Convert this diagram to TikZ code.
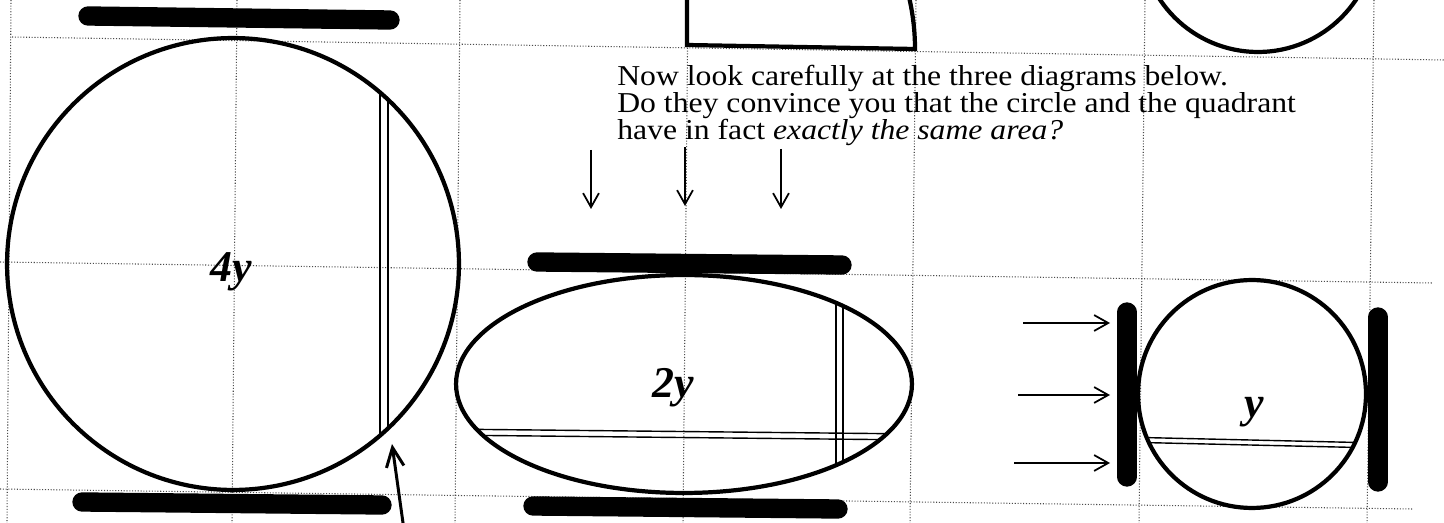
\documentclass[tikz,border=0pt]{standalone}
\usepackage{fontspec}
\setmainfont{Liberation Serif}
\newfontfamily\notefont[FakeStretch=1.1]{Liberation Serif}
\usetikzlibrary{arrows.meta}

\begin{document}
\begin{tikzpicture}[x=0.02cm, y=-0.02cm,
  gridline/.style={densely dotted, line width=0.6pt, black!70},
  heavybar/.style={line width=11pt, line cap=round},
  outline/.style={line width=2.4pt},
  chord/.style={line width=0.8pt},
  pusharrow/.style={line width=1pt, -{Straight Barb[length=8pt, width=9pt]}},
  notetext/.style={anchor=base west, inner sep=0pt, font=\notefont\fontsize{16.4pt}{19pt}\selectfont},
  sizelabel/.style={anchor=base, inner sep=0pt, font=\fontsize{25pt}{30pt}\selectfont\bfseries\itshape}]
  \path[use as bounding box, fill=white] (0,0) rectangle (1444,523);
  \clip (0,0) rectangle (1444,523);

  % Grid of the squared paper
  \draw[gridline] (12,37) -- (1444,60);
  \draw[gridline] (0,262) -- (1433,283);
  \draw[gridline] (0,489) -- (1413,509);
  \foreach \xa/\xb in {11/7, 237/232, 460/455, 688/683, 916/910, 1145/1139, 1374/1367}
    \draw[gridline] (\xa,0) -- (\xb,523);

  % Top: the earlier figures, cut off
  \draw[heavybar] (88,16) -- (390,20);
  \draw[outline, line join=miter] (687,-200) -- (687,45) -- (915,49)
    arc[start angle=0, end angle=60, radius=4.56cm];
  \draw[outline] (1258,-66) circle[radius=2.36cm];

  % Note
  \node[notetext] (noteA) at (617,86) {Now look carefully at the three diagrams below.};
  \node[notetext] (noteB) at (617,113) {Do they convince you that the circle and the quadrant};
  \node[notetext] (noteC) at (617,140) {have in fact \textit{exactly the same area?}};

  % Left: big circle between two bars
  \coordinate (bigc) at (233,264);
  \draw[heavybar] (82,502) -- (382,505);
  \draw[outline] (bigc) circle[radius=4.52cm];
  \begin{scope}
    \clip (bigc) circle[radius=4.52cm];
    \draw[chord] (380,0) -- (380,523) (388,0) -- (388,523);
  \end{scope}
  \node[sizelabel] (biglabel) at (231,282) {4y};
  \coordinate (pointtail) at (404,530);
  \coordinate (pointtip) at (392,444);
  \draw[line width=1.7pt, -{Straight Barb[length=11pt, width=10pt]}] (pointtail) -- (pointtip);

  % Middle: squashed into an ellipse
  \coordinate (ellc) at (684,384);
  \draw[heavybar] (537,262) -- (842,265);
  \draw[heavybar] (533,506) -- (838,509);
  \draw[outline] (ellc) ellipse[x radius=4.56cm, y radius=2.18cm];
  \begin{scope}
    \clip (ellc) ellipse[x radius=4.56cm, y radius=2.18cm];
    \draw[chord] (836,250) -- (836,520) (843,250) -- (843,520);
    \draw[chord] (440,429) -- (920,434) (440,435) -- (920,440);
  \end{scope}
  \node[sizelabel] (elllabel) at (673,398) {2y};
  \foreach \xx/\ya/\yb [count=\i] in {591/150/209, 685/147/206, 781/149/209} {
    \coordinate (droptail\i) at (\xx,\ya);
    \coordinate (droptip\i) at (\xx,\yb);
    \draw[pusharrow] (droptail\i) -- (droptip\i);
  }

  % Right: small circle pressed from the side
  \coordinate (smallc) at (1252,394);
  \draw[heavybar] (1127,312) -- (1127,477);
  \draw[heavybar] (1378,317) -- (1378,482);
  \draw[outline] (smallc) circle[radius=2.28cm];
  \begin{scope}
    \clip (smallc) circle[radius=2.28cm];
    \draw[chord] (1120,437) -- (1380,443) (1120,442) -- (1380,448);
  \end{scope}
  \node[sizelabel] (smalllabel) at (1254,418) {y};
  \foreach \xt/\yy [count=\i] in {1023/323, 1018/395, 1014/463} {
    \coordinate (pushtail\i) at (\xt,\yy);
    \coordinate (pushtip\i) at (1110,\yy);
    \draw[pusharrow] (pushtail\i) -- (pushtip\i);
  }
\end{tikzpicture}
\end{document}
